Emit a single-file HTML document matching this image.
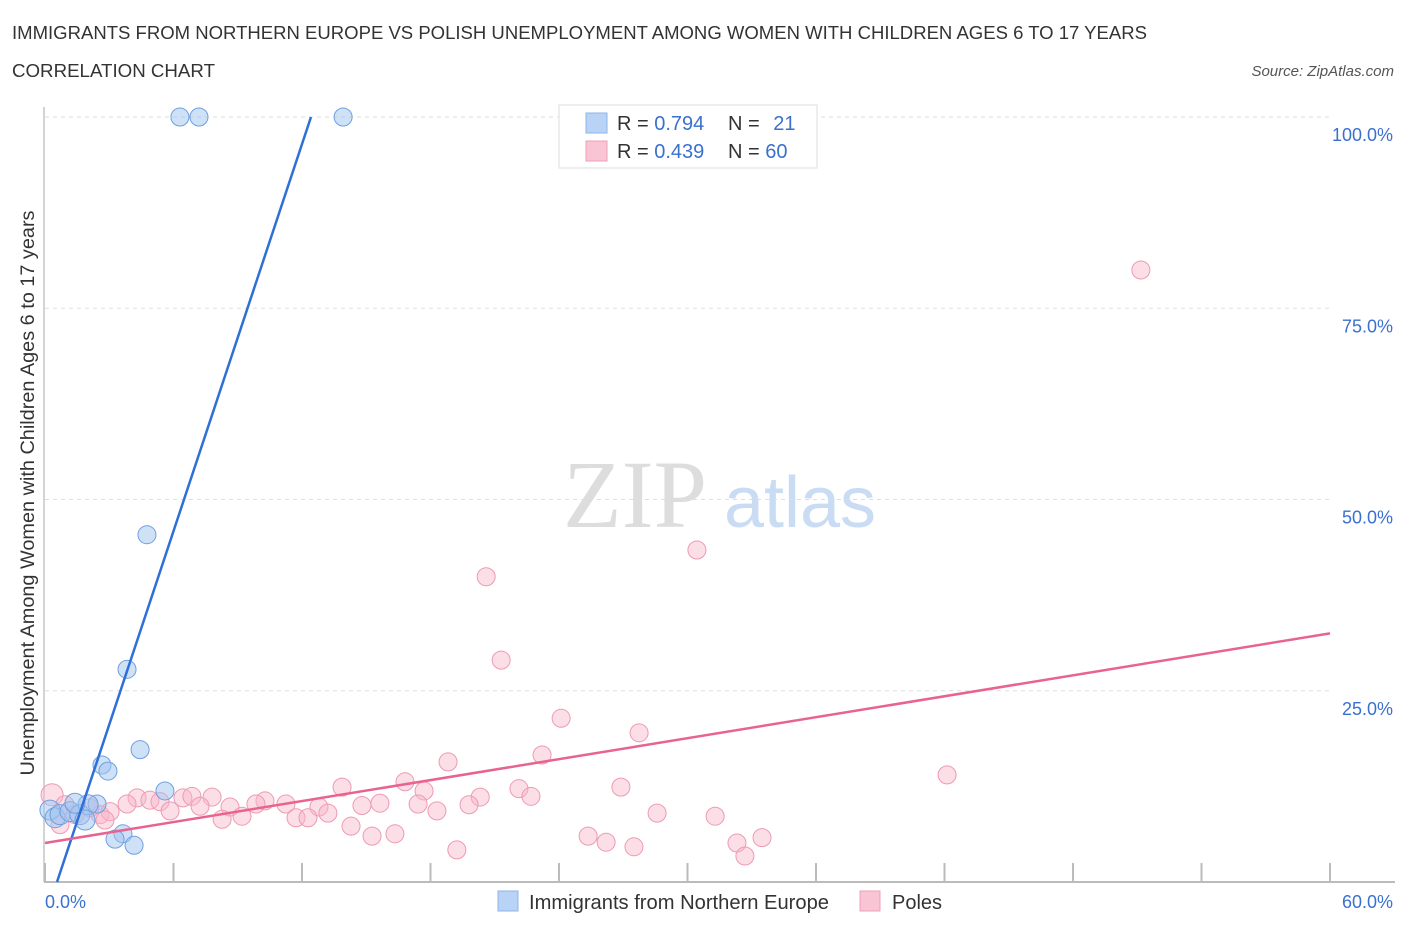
<!DOCTYPE html>
<html><head><meta charset="utf-8"><style>
body{margin:0;background:#fff;font-family:"Liberation Sans",sans-serif}
svg{display:block}
</style></head><body>
<svg id="c" width="1406" height="930" xmlns="http://www.w3.org/2000/svg">
<text x="12" y="39" font-size="18" fill="#333" textLength="1135" lengthAdjust="spacingAndGlyphs">IMMIGRANTS FROM NORTHERN EUROPE VS POLISH UNEMPLOYMENT AMONG WOMEN WITH CHILDREN AGES 6 TO 17 YEARS</text>
<text x="12" y="77" font-size="18" fill="#333" textLength="203" lengthAdjust="spacingAndGlyphs">CORRELATION CHART</text>
<text x="1394" y="76" font-size="15" fill="#555" font-style="italic" text-anchor="end">Source: ZipAtlas.com</text>
<text x="635" y="527" font-size="96" fill="#ddd" font-family="Liberation Serif,serif" text-anchor="middle">ZIP</text>
<text x="800" y="527" font-size="72" fill="#c9dcf3" text-anchor="middle">atlas</text>
<text transform="translate(34,493) rotate(-90)" font-size="19" fill="#333" text-anchor="middle" textLength="565" lengthAdjust="spacingAndGlyphs">Unemployment Among Women with Children Ages 6 to 17 years</text>
<g id="grid"></g><g id="pts"></g><g id="lines"></g>
<g>
<rect x="559" y="105" width="258" height="63" fill="#fff" stroke="#ddd"/>
<rect x="586" y="113" width="21" height="20" fill="#b8d3f5" stroke="#8fb6ea"/>
<rect x="586" y="141" width="21" height="20" fill="#f9c5d4" stroke="#f0a0b8"/>
<text x="617" y="130" font-size="20" fill="#333">R = <tspan fill="#3a70d0">0.794</tspan></text>
<text x="728" y="130" font-size="20" fill="#333">N = <tspan fill="#3a70d0" dx="8">21</tspan></text>
<text x="617" y="158" font-size="20" fill="#333">R = <tspan fill="#3a70d0">0.439</tspan></text>
<text x="728" y="158" font-size="20" fill="#333">N = <tspan fill="#3a70d0">60</tspan></text>
</g>
<g>
<rect x="498" y="891" width="20" height="20" fill="#b8d3f5" stroke="#8fb6ea"/>
<text x="529" y="909" font-size="20" fill="#333" textLength="300" lengthAdjust="spacingAndGlyphs">Immigrants from Northern Europe</text>
<rect x="860" y="891" width="20" height="20" fill="#f9c5d4" stroke="#f0a0b8"/>
<text x="892" y="909" font-size="20" fill="#333">Poles</text>
</g>
</svg>
<script>
const xTicks=[0,6,12,18,24,30,36,42,48,54,60];
const yTicks=[25,50,75,100];
const yTickLabels=["25.0%","50.0%","75.0%","100.0%"];
const blueX=[6.3,7.19,13.92,4.76,3.83,4.44,2.66,2.94,5.6,2.43,3.64,3.27,4.16,0.23,0.47,0.7,1.17,1.63,2.01,1.4,1.87];
const blueY=[100,100,100,45.4,27.8,17.3,15.3,14.5,11.9,10.2,6.3,5.6,4.8,9.4,8.4,8.8,9.2,8.8,10.1,10.3,8.1];
const pinkX=[0.33,51.17,30.44,20.6,21.3,24.1,27.74,23.21,18.82,42.12,16.81,13.87,26.89,22.13,17.7,22.69,20.32,4.3,3.83,4.9,5.37,6.44,6.86,7.8,10.27,9.85,11.25,14.8,15.64,17.42,19.8,12.79,7.24,8.64,5.84,13.21,18.3,28.58,31.29,8.27,9.2,11.72,12.28,14.29,15.27,16.34,25.36,26.2,27.5,19.23,32.31,33.48,32.68,2.57,3.04,2.1,0.93,1.4,2.8,0.7];
const pinkY=[11.4,80,43.4,39.9,29.0,21.4,19.5,16.6,15.7,14.0,13.1,12.4,12.4,12.2,11.9,11.2,11.1,11.0,10.2,10.7,10.5,11.0,11.2,11.1,10.6,10.2,10.2,10.0,10.3,10.2,10.1,9.8,9.9,9.8,9.3,9.0,9.3,9.0,8.6,8.2,8.6,8.4,8.4,7.3,6.0,6.3,6.0,5.2,4.6,4.2,5.1,5.8,3.4,8.8,9.2,9.7,10.1,8.8,8.1,7.5];
const blueLine=[[0.56,0],[12.42,100]];
const pinkLine=[[0,5.1],[60,32.5]];
const X0=45,X1=1330,Y0=882,Y1=117;
const sx=v=>X0+(X1-X0)*v/60, sy=v=>Y0-(Y0-Y1)*v/100;
const NS="http://www.w3.org/2000/svg";
function mk(p,t,a){const e=document.createElementNS(NS,t);for(const k in a)e.setAttribute(k,a[k]);p.appendChild(e);return e;}
const grid=document.getElementById('grid');
yTicks.forEach((v,i)=>{
 const l=mk(grid,'line',{x1:X0,x2:X1,y1:sy(v),y2:sy(v),stroke:'#ddd','stroke-dasharray':'4,4'});
 
 
 const t=mk(grid,'text',{x:1393,y:sy(v)+24,'font-size':18,fill:'#3a70d0','text-anchor':'end'});
 t.textContent=yTickLabels[i];
 
 
});
const ax=mk(grid,'line',{x1:X0-1,x2:X0-1,y1:107,y2:Y0,stroke:'#aaa'});


const bx=mk(grid,'line',{x1:X0-1,x2:1395,y1:Y0,y2:Y0,stroke:'#bbb','stroke-width':2});


xTicks.forEach(v=>{
 const l=mk(grid,'line',{x1:sx(v),x2:sx(v),y1:Y0-19,y2:Y0,stroke:'#bbb','stroke-width':2});
 
 
});
const xl0=mk(grid,'text',{x:45,y:908,'font-size':18,fill:'#3a70d0'});xl0.textContent=xTicks[0].toFixed(1)+'%';


const xl1=mk(grid,'text',{x:1393,y:908,'font-size':18,fill:'#3a70d0','text-anchor':'end'});xl1.textContent=xTicks[xTicks.length-1].toFixed(1)+'%';


const pts=document.getElementById('pts');
pinkX.forEach((x,i)=>{
 const c=mk(pts,'circle',{cx:sx(x),cy:sy(pinkY[i]),r:i==0?11:9,fill:'rgba(248,182,202,0.45)',stroke:'#ee9ab4','stroke-width':1});
 
 
});
blueX.forEach((x,i)=>{
 const c=mk(pts,'circle',{cx:sx(x),cy:sy(blueY[i]),r:i>=13?10:9,fill:'rgba(160,196,240,0.5)',stroke:'#6f9fe0','stroke-width':1});
 
 
});
const lines=document.getElementById('lines');
const bl=mk(lines,'line',{x1:sx(blueLine[0][0]),y1:sy(blueLine[0][1]),x2:sx(blueLine[1][0]),y2:sy(blueLine[1][1]),stroke:'#2f6fd6','stroke-width':2.5});


const pl=mk(lines,'line',{x1:sx(pinkLine[0][0]),y1:sy(pinkLine[0][1]),x2:sx(pinkLine[1][0]),y2:sy(pinkLine[1][1]),stroke:'#e8638f','stroke-width':2.5});


</script>
</body></html>
